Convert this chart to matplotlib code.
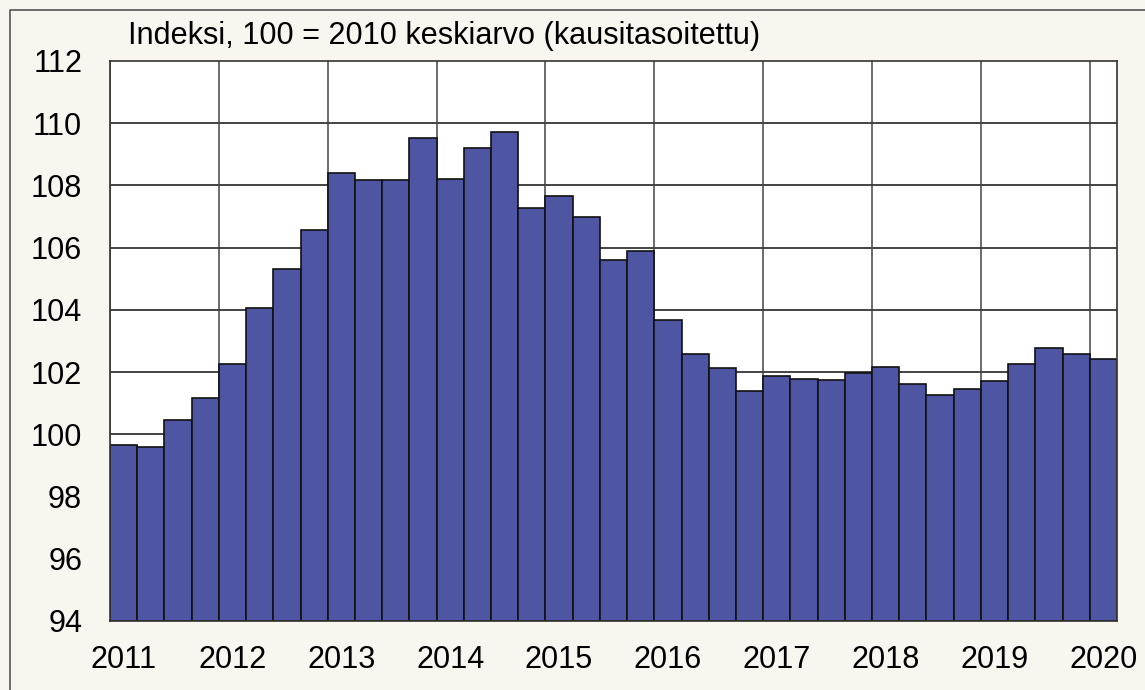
import matplotlib.pyplot as plt
from matplotlib.lines import Line2D

plt.rcParams['font.family'] = ['Liberation Sans', 'DejaVu Sans']

# quarterly index values, 2011Q1 .. 2020Q1
years = ['2011', '2012', '2013', '2014', '2015', '2016', '2017', '2018', '2019', '2020']
values = [99.67, 99.59, 100.45, 101.17,
          102.26, 104.05, 105.32, 106.58,
          108.41, 108.16, 108.19, 109.54,
          108.22, 109.21, 109.71, 107.27,
          107.65, 106.97, 105.59, 105.88,
          103.66, 102.57, 102.14, 101.38,
          101.86, 101.78, 101.75, 101.96,
          102.18, 101.61, 101.25, 101.45,
          101.73, 102.26, 102.76, 102.59,
          102.41]
title = 'Indeksi, 100 = 2010 keskiarvo (kausitasoitettu)'
y_min, y_max = 94, 112

bg = '#f9f5ef'
bar_col = '#4e56a4'
fs = 22.1

fig = plt.figure(figsize=(11.45, 6.9), dpi=100, facecolor=bg)
ax = fig.add_axes([110 / 1145, 69 / 690, 1007 / 1145, 560 / 690])
ax.set_facecolor('white')

n = len(values)
x = list(range(n))
bottoms = [y_min] * n
heights = [v - y_min for v in values]

# grid first
for yv in range(y_min + 2, y_max, 2):
    ax.axhline(yv, color='#111111', lw=1.1, zorder=1)
for i in range(len(years)):
    ax.axvline(i * 4, color='#444444', lw=1.1, zorder=1)

ax.bar(x, heights, bottom=bottoms, width=1.0, align='edge', color=bar_col,
       edgecolor='#111111', linewidth=1.2, zorder=2)

ax.set_xlim(0, n)
ax.set_ylim(y_min, y_max)
ax.set_yticks(range(y_min, y_max + 1, 2))
ax.set_yticklabels([str(v) for v in range(y_min, y_max + 1, 2)], fontsize=fs)
ax.set_xticks([i * 4 + 0.5 for i in range(len(years))])
ax.set_xticklabels(years, fontsize=fs)
ax.tick_params(axis='y', length=0, pad=20)
ax.tick_params(axis='x', length=0, pad=17.5)

for s in ax.spines.values():
    s.set_color('#333333')
    s.set_linewidth(1.2)

fig.text(128 / 1145, 1 - 44 / 690, title, fontsize=fs, ha='left', va='baseline')

# outer frame (left and top edges)
fig.add_artist(Line2D([10 / 1145, 10 / 1145, 1.0], [0.0, 1 - 10 / 690, 1 - 10 / 690],
                      transform=fig.transFigure, color='#555555', lw=1.2))

plt.savefig('out.png', dpi=100, facecolor=bg)
